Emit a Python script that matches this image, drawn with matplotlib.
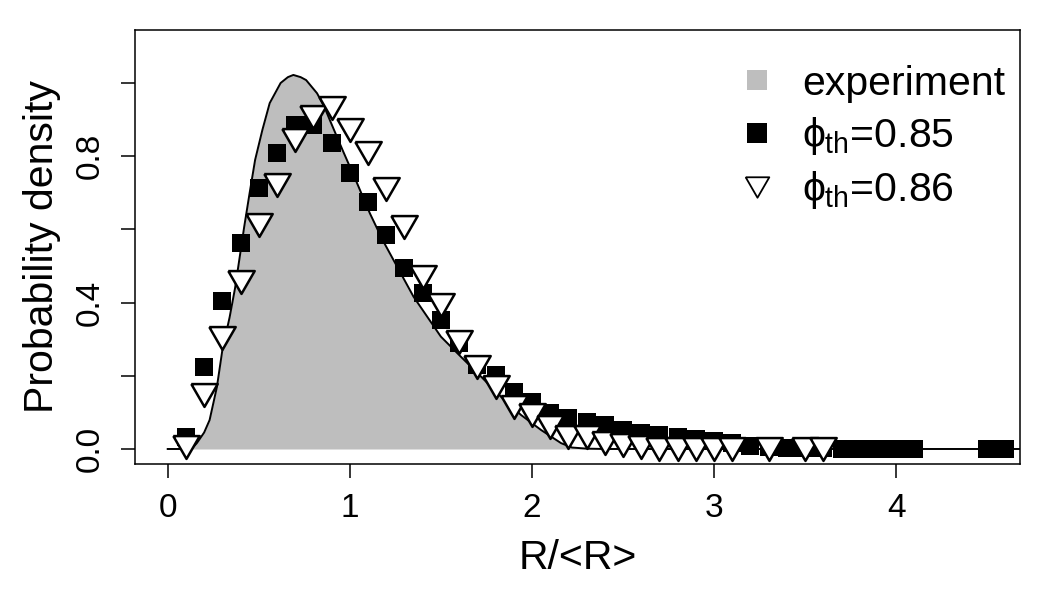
#!/usr/bin/env python3
"""
Densidad de probabilidad de R/<R>: experimento vs simulaciones (phi_th).
Genera out.png
"""

import matplotlib
matplotlib.use("Agg")
import matplotlib.pyplot as plt
from matplotlib.lines import Line2D

# ============================================================================
# DATOS
# ============================================================================
# curva experimental (densidad)
curva_x = [0.0, 0.13, 0.16, 0.20, 0.23, 0.27, 0.30, 0.34, 0.37, 0.40, 0.42,
           0.45, 0.48, 0.52, 0.56, 0.62, 0.66, 0.69, 0.73, 0.76, 0.82, 0.86,
           0.89, 0.96, 1.04, 1.11, 1.18, 1.26, 1.35, 1.50, 1.61, 1.72, 1.83,
           1.94, 2.05, 2.16, 2.22, 2.30, 2.40, 4.90]
curva_y = [0.0, 0.0, 0.016, 0.045, 0.079, 0.169, 0.27, 0.36, 0.44, 0.54, 0.607,
           0.70, 0.79, 0.872, 0.945, 1.0, 1.016, 1.022, 1.016, 1.008, 0.972,
           0.935, 0.899, 0.817, 0.726, 0.644, 0.571, 0.498, 0.416, 0.307,
           0.252, 0.198, 0.143, 0.093, 0.052, 0.016, 0.004, 0.001, 0.0, 0.0]

# phi_th = 0.85 (cuadrados negros)
x_085 = [0.1, 0.2, 0.3, 0.4, 0.5, 0.6, 0.7, 0.8, 0.9, 1.0, 1.1, 1.2, 1.3, 1.4,
         1.5, 1.6, 1.7, 1.8, 1.9, 2.0, 2.1, 2.2, 2.3, 2.4, 2.5, 2.6, 2.7, 2.8,
         2.9, 3.0, 3.1, 3.2, 3.3, 3.4, 3.5, 3.6, 3.7, 3.8, 3.9, 4.0, 4.1,
         4.5, 4.6]
y_085 = [0.033, 0.224, 0.404, 0.563, 0.713, 0.808, 0.885, 0.885, 0.836, 0.754,
         0.675, 0.585, 0.495, 0.426, 0.352, 0.29, 0.23, 0.202, 0.156, 0.128,
         0.098, 0.085, 0.074, 0.066, 0.052, 0.044, 0.038, 0.033, 0.027, 0.022,
         0.016, 0.008, 0.006, 0.003, 0.002, 0.002, 0.001, 0.001, 0.001, 0.001,
         0.001, 0.0003, 0.0003]

# phi_th = 0.86 (triangulos blancos)
x_086 = [0.1, 0.2, 0.3, 0.4, 0.5, 0.6, 0.7, 0.8, 0.9, 1.0, 1.1, 1.2, 1.3, 1.4,
         1.5, 1.6, 1.7, 1.8, 1.9, 2.0, 2.1, 2.2, 2.3, 2.4, 2.5, 2.6, 2.7, 2.8,
         2.9, 3.0, 3.1, 3.3, 3.5, 3.6]
y_086 = [0.005, 0.148, 0.303, 0.456, 0.612, 0.721, 0.844, 0.907, 0.932, 0.872,
         0.809, 0.71, 0.607, 0.47, 0.393, 0.292, 0.224, 0.169, 0.115, 0.093,
         0.06, 0.033, 0.033, 0.016, 0.011, 0.005, 0.0, 0.0, 0.0, 0.0, 0.0,
         0.0, 0.0, 0.0]

ticks_x = [0, 1, 2, 3, 4]
ticks_y = [0.0, 0.2, 0.4, 0.6, 0.8, 1.0]
etiquetas_y = ["0.0", "", "0.4", "", "0.8", ""]

etiquetas_leyenda = ["experiment", r"$\phi_{\rm th}$=0.85", r"$\phi_{\rm th}$=0.86"]

# ============================================================================
# ESTILO
# ============================================================================
GRIS = "#BEBEBE"
FUENTE = ["Liberation Sans", "DejaVu Sans"]
plt.rcParams["font.family"] = FUENTE
plt.rcParams["mathtext.fontset"] = "custom"
plt.rcParams["mathtext.rm"] = "Liberation Sans"
plt.rcParams["mathtext.it"] = "Liberation Sans"
plt.rcParams["mathtext.fallback"] = "stixsans"

# triangulo equilatero apuntando hacia abajo
TRIANGULO = [(-1, 0.866), (1, 0.866), (0, -0.866), (-1, 0.866)]


def graficar(salida):
    fig = plt.figure(figsize=(10.5, 6), dpi=100)
    ax = fig.add_axes([135 / 1050, 136 / 600, 885 / 1050, 434 / 600])

    # densidad experimental
    ax.fill_between(curva_x, curva_y, 0, color=GRIS, lw=0, zorder=1)
    ax.plot(curva_x, curva_y, color="black", lw=1.4, zorder=2)

    # simulaciones
    ax.plot(x_085, y_085, ls="none", marker="s", ms=13, color="black",
            mew=0, zorder=3)
    ax.plot(x_086, y_086, ls="none", marker=TRIANGULO, ms=19, mfc="white",
            mec="black", mew=1.8, zorder=4)

    ax.set_xlim(-0.1796, 4.68)
    ax.set_ylim(-0.041, 1.1448)
    ax.set_xticks(ticks_x)
    ax.set_yticks(ticks_y)
    ax.set_yticklabels(etiquetas_y, rotation=90, va="center")

    ax.tick_params(axis="both", direction="out", length=10, width=1.1,
                   labelsize=24, color="black")
    ax.tick_params(axis="x", pad=11)
    ax.tick_params(axis="y", pad=11)
    for lado in ax.spines.values():
        lado.set_linewidth(1.1)

    ax.set_xlabel("R/<R>", fontsize=29.5, labelpad=11)
    ax.set_ylabel("Probability density", fontsize=29.5, labelpad=10)

    # leyenda
    manijas = [
        Line2D([], [], ls="none", marker="s", ms=14, color=GRIS, mew=0),
        Line2D([], [], ls="none", marker="s", ms=14, color="black", mew=0),
        Line2D([], [], ls="none", marker=TRIANGULO, ms=17, mfc="white",
               mec="black", mew=1.3),
    ]
    ax.legend(manijas, etiquetas_leyenda, loc="upper left",
              bbox_to_anchor=(0.64, 1.0), frameon=False, fontsize=29.5,
              handlelength=1.0, handletextpad=0.6, labelspacing=0.3,
              borderpad=0.35)

    fig.savefig(salida, dpi=100)
    plt.close(fig)


if __name__ == "__main__":
    graficar("out.png")
